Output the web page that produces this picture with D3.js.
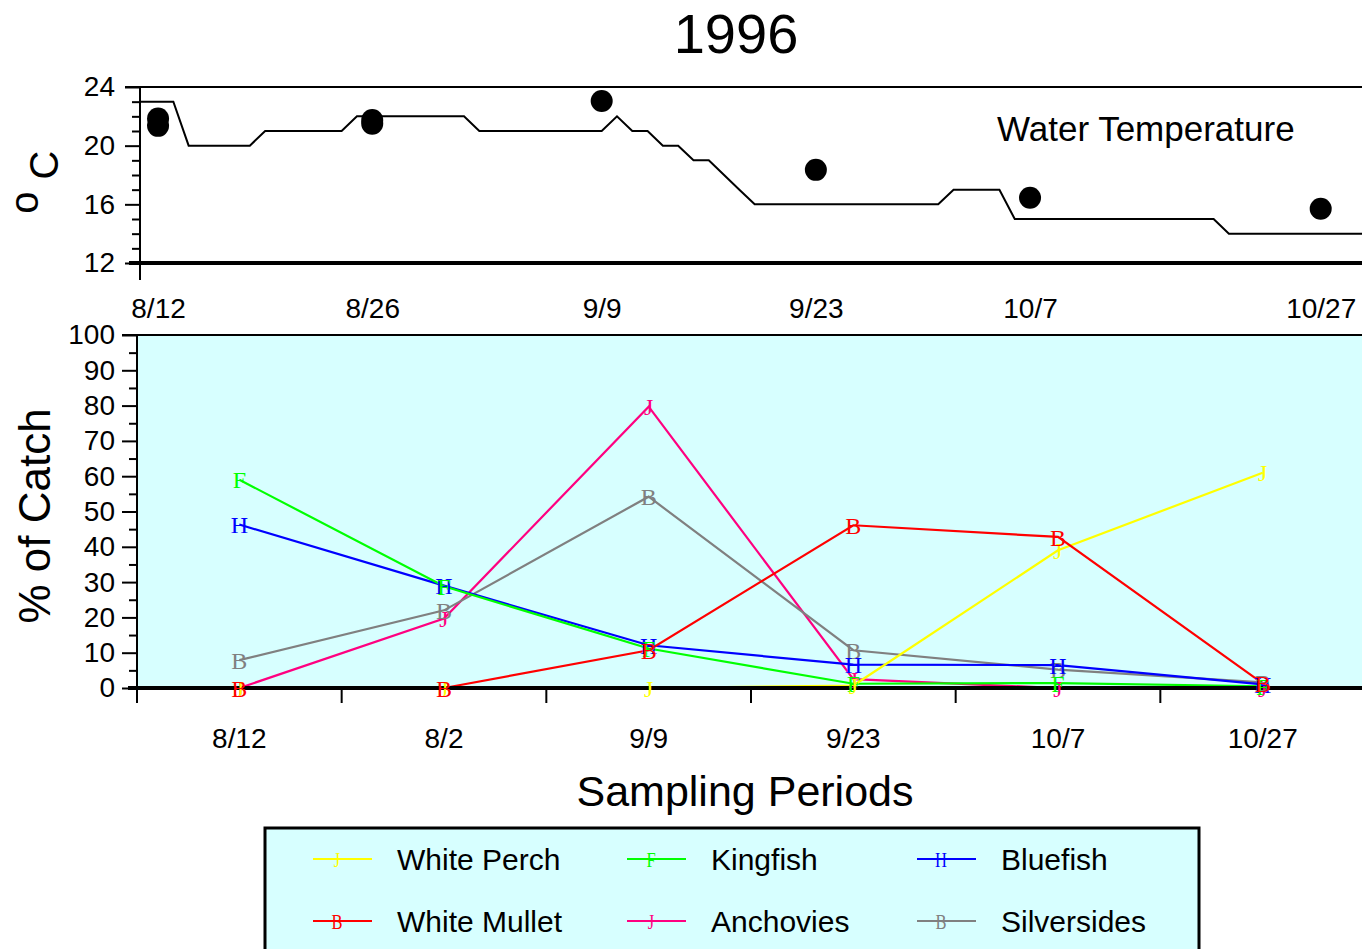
<!DOCTYPE html>
<html>
<head>
<meta charset="utf-8">
<script src="https://cdn.jsdelivr.net/npm/d3@7/dist/d3.min.js"></script>
<style>
  html, body { margin: 0; padding: 0; background: #ffffff; }
  svg { display: block; font-family: "Liberation Sans", Arial, sans-serif; }
  text { fill: #000; }
  .sym { font-family: "Liberation Serif", "Times New Roman", serif; }
</style>
</head>
<body>
<script>
// ---------- Water temperature (upper panel) ----------
// Daily water temperature (deg C), first value is day -2 relative to 8/12
const tempStartDay = -2;
const dailyTemps = [23, 23, 23, 23,
  20, 20, 20, 20, 20,
  21, 21, 21, 21, 21, 21,
  22, 22, 22, 22, 22, 22, 22, 22,
  21, 21, 21, 21, 21, 21, 21, 21, 21,
  22,
  21, 21,
  20, 20,
  19, 19,
  18, 17,
  16, 16, 16, 16, 16, 16, 16, 16, 16, 16, 16, 16, 16,
  17, 17, 17, 17,
  15, 15, 15, 15, 15, 15, 15, 15, 15, 15, 15, 15, 15, 15,
  14, 14, 14, 14, 14, 14, 14, 14, 14, 14];

// Temperature measured at each sampling (days after 8/12)
const readingDays = [0, 0, 14, 14, 29, 43, 57, 76];
const readingTemps = [21.85, 21.35, 21.75, 21.5, 23.05, 18.35, 16.45, 15.7];

const sampleDays = [0, 14, 29, 43, 57, 76];
const sampleDayLabels = ["8/12", "8/26", "9/9", "9/23", "10/7", "10/27"];
const tempTicks = [12, 16, 20, 24];
const tempMinorTicks = [13, 14, 15, 17, 18, 19, 21, 22, 23];

// ---------- Catch composition (lower panel) ----------
const periods = ["8/12", "8/2", "9/9", "9/23", "10/7", "10/27"];
const whitePerch  = [0, 0, 0, 0.7, 39, 61];
const kingfish    = [59, 28.8, 11.2, 1.2, 1.4, 0.5];
const bluefish    = [46.3, 29, 12.1, 6.6, 6.5, 1.0];
const whiteMullet = [0, 0, 10.7, 46.1, 42.8, 1.3];
const anchovies   = [0, 19.7, 79.7, 2.5, 0, 0];
const silversides = [7.9, 22, 54.2, 10.7, 5.2, 1.6];

const speciesNames   = ["White Perch", "Kingfish", "Bluefish", "White Mullet", "Anchovies", "Silversides"];
const speciesValues  = [whitePerch, kingfish, bluefish, whiteMullet, anchovies, silversides];
const speciesColors  = ["#ffff00", "#00ff00", "#0000ff", "#ff0000", "#ff0080", "#808080"];
const speciesSymbols = ["J", "F", "H", "B", "J", "B"];
// order in which series are painted (later ones on top)
const paintOrder = [4, 5, 2, 1, 0, 3];

const percentTicks = [0, 10, 20, 30, 40, 50, 60, 70, 80, 90, 100];
const percentMinorTicks = [5, 15, 25, 35, 45, 55, 65, 75, 85, 95];

const W = 1362, H = 949;
const cyan = "#d7ffff";
const svg = d3.select("body").append("svg").attr("width", W).attr("height", H);

// Title
svg.append("text").attr("x", 736).attr("y", 53).attr("text-anchor", "middle")
  .attr("font-size", 56).text("1996");

// ================= Upper panel =================
const xT = d3.scaleLinear().domain([-1.18, 78.7]).range([140, 1362]);
const yT = d3.scaleLinear().domain([12, 24]).range([263, 87]);

svg.append("defs").append("clipPath").attr("id", "clipT")
  .append("rect").attr("x", 140).attr("y", 80).attr("width", W - 140).attr("height", 190);

// frame line at the top of the panel
svg.append("line").attr("x1", 125).attr("x2", W).attr("y1", yT(24)).attr("y2", yT(24))
  .attr("stroke", "#000").attr("stroke-width", 2);

// temperature trace
const tempPts = dailyTemps.map((t, i) => [tempStartDay + i, t]);
svg.append("path").datum(tempPts)
  .attr("clip-path", "url(#clipT)")
  .attr("fill", "none").attr("stroke", "#000").attr("stroke-width", 2)
  .attr("d", d3.line().x(d => xT(d[0])).y(d => yT(d[1])));

// sampling temperatures
svg.append("g").selectAll("circle").data(readingDays).join("circle")
  .attr("cx", d => xT(d)).attr("cy", (d, i) => yT(readingTemps[i]))
  .attr("r", 11).attr("fill", "#000");

// y axis (major + minor)
const yTAxis = svg.append("g").attr("transform", "translate(140,0)")
  .call(d3.axisLeft(yT).tickValues(tempTicks).tickSize(15).tickPadding(10).tickFormat(d3.format("d")));
yTAxis.select(".domain").remove();
yTAxis.attr("font-family", null);
yTAxis.selectAll("line").attr("stroke-width", 2);
yTAxis.selectAll("text").attr("font-size", 28);
const yTMinor = svg.append("g").attr("transform", "translate(140,0)")
  .call(d3.axisLeft(yT).tickValues(tempMinorTicks).tickSize(8).tickFormat(""));
yTMinor.select(".domain").remove();
yTMinor.selectAll("line").attr("stroke-width", 2);

svg.append("line").attr("x1", 140).attr("x2", 140).attr("y1", yT(24)).attr("y2", 280)
  .attr("stroke", "#000").attr("stroke-width", 2);
svg.append("line").attr("x1", 129).attr("x2", W).attr("y1", yT(12)).attr("y2", yT(12))
  .attr("stroke", "#000").attr("stroke-width", 4);

// x labels at sampling dates
const xTAxis = svg.append("g").attr("transform", "translate(0,263)")
  .call(d3.axisBottom(xT).tickValues(sampleDays).tickSize(0)
    .tickFormat((d, i) => sampleDayLabels[i]));
xTAxis.select(".domain").remove();
xTAxis.attr("font-family", null);
xTAxis.selectAll("text").attr("y", 55).attr("dy", 0).attr("font-size", 28);

svg.append("text").attr("x", 997).attr("y", 141).attr("font-size", 35).text("Water Temperature");

// degree C axis title
svg.append("text").attr("transform", "translate(38,202.5) rotate(-90)")
  .attr("text-anchor", "middle").attr("font-size", 40).text("o");
svg.append("text").attr("transform", "translate(58,165) rotate(-90)")
  .attr("text-anchor", "middle").attr("font-size", 40).text("C");

// ================= Lower panel =================
const xB = d3.scaleBand().domain(periods).range([137, 1365]).padding(0);
const yB = d3.scaleLinear().domain([0, 100]).range([688, 335]);
const cx = p => xB(p) + xB.bandwidth() / 2;

svg.append("rect").attr("x", 137).attr("y", yB(100))
  .attr("width", W - 137).attr("height", yB(0) - yB(100)).attr("fill", cyan);

// series lines
const line = d3.line().x((d, i) => cx(periods[i])).y(d => yB(d));
const lineG = svg.append("g");
paintOrder.forEach(s => {
  lineG.append("path").datum(speciesValues[s])
    .attr("fill", "none").attr("stroke", speciesColors[s]).attr("stroke-width", 2.2)
    .attr("d", line);
});

// axes
svg.append("line").attr("x1", 122).attr("x2", W).attr("y1", yB(100)).attr("y2", yB(100))
  .attr("stroke", "#000").attr("stroke-width", 2);
svg.append("line").attr("x1", 137).attr("x2", 137).attr("y1", yB(100)).attr("y2", yB(0))
  .attr("stroke", "#000").attr("stroke-width", 2);

const yBAxis = svg.append("g").attr("transform", "translate(137,0)")
  .call(d3.axisLeft(yB).tickValues(percentTicks).tickSize(15).tickPadding(7));
yBAxis.select(".domain").remove();
yBAxis.attr("font-family", null);
yBAxis.selectAll("line").attr("stroke-width", 2);
yBAxis.selectAll("text").attr("font-size", 28);
const yBMinor = svg.append("g").attr("transform", "translate(137,0)")
  .call(d3.axisLeft(yB).tickValues(percentMinorTicks).tickSize(8).tickFormat(""));
yBMinor.select(".domain").remove();
yBMinor.selectAll("line").attr("stroke-width", 2);

svg.append("line").attr("x1", 128).attr("x2", W).attr("y1", yB(0)).attr("y2", yB(0))
  .attr("stroke", "#000").attr("stroke-width", 4);

// band boundary ticks
svg.append("g").selectAll("line").data(periods).join("line")
  .attr("x1", d => xB(d)).attr("x2", d => xB(d))
  .attr("y1", yB(0)).attr("y2", yB(0) + 15)
  .attr("stroke", "#000").attr("stroke-width", 2);

const xBAxis = svg.append("g").attr("transform", `translate(0,${yB(0)})`)
  .call(d3.axisBottom(xB).tickSize(0));
xBAxis.select(".domain").remove();
xBAxis.attr("font-family", null);
xBAxis.selectAll("text").attr("y", 60).attr("dy", 0).attr("font-size", 28);

// series symbols
const symG = svg.append("g");
paintOrder.forEach(s => {
  symG.append("g").selectAll("text").data(speciesValues[s]).join("text")
    .attr("class", "sym")
    .attr("x", (d, i) => cx(periods[i])).attr("y", d => yB(d)).attr("dy", "0.36em")
    .attr("text-anchor", "middle")
    .attr("font-size", 24).style("fill", speciesColors[s])
    .text(speciesSymbols[s]);
});

// axis titles
svg.append("text").attr("transform", "translate(50,516) rotate(-90)")
  .attr("text-anchor", "middle").attr("font-size", 44).text("% of Catch");
svg.append("text").attr("x", 745).attr("y", 806).attr("text-anchor", "middle")
  .attr("font-size", 43).text("Sampling Periods");

// ================= Legend =================
const legendCols = [313, 627, 917];
const legendRows = [859, 921];
const legend = svg.append("g");
legend.append("rect").attr("x", 265).attr("y", 828).attr("width", 934).attr("height", 150)
  .attr("fill", cyan).attr("stroke", "#000").attr("stroke-width", 3);
speciesNames.forEach((name, i) => {
  const lx = legendCols[i % 3], ly = legendRows[Math.floor(i / 3)];
  const g = legend.append("g");
  g.append("line").attr("x1", lx).attr("x2", lx + 59).attr("y1", ly).attr("y2", ly)
    .attr("stroke", speciesColors[i]).attr("stroke-width", 2.2);
  g.append("text").attr("class", "sym")
    .attr("transform", `translate(${lx + 24},${ly}) scale(0.75,1)`)
    .attr("dy", "0.36em").attr("text-anchor", "middle")
    .attr("font-size", 22).style("fill", speciesColors[i]).text(speciesSymbols[i]);
  g.append("text").attr("x", lx + 84).attr("y", ly + 11).attr("font-size", 30).text(name);
});
</script>
</body>
</html>
